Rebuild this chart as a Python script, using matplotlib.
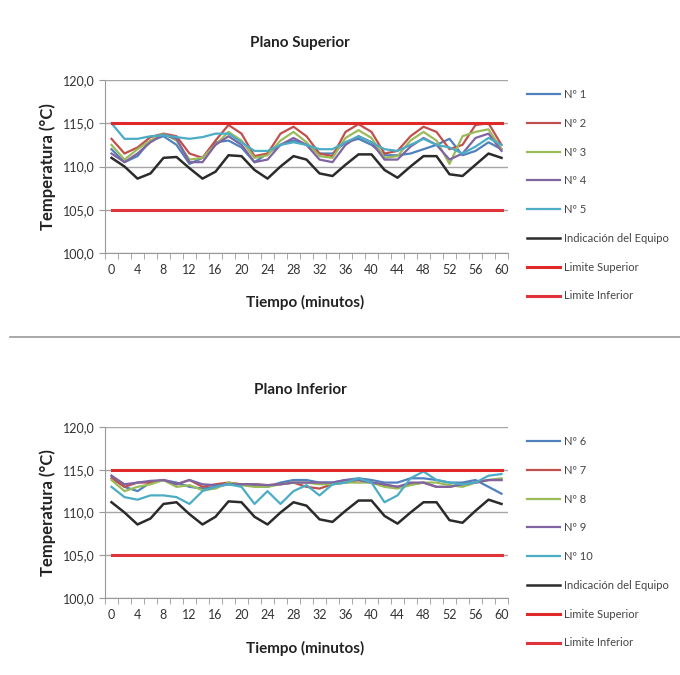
import numpy as np
import matplotlib
matplotlib.use("Agg")
import matplotlib.pyplot as plt

plt.rcParams['font.family'] = ['Lato', 'DejaVu Sans']

# minutos (categorias cada 2 min)
tiempo = list(range(0, 61, 2))

# ---------------- Plano Superior ----------------
sup_n1 = [112.0, 110.5, 111.2, 113.0, 113.5, 112.5, 110.3, 111.0, 112.8, 113.0, 112.2,
          110.5, 111.5, 112.5, 113.0, 112.5, 111.5, 111.5, 112.8, 113.2, 112.5, 111.3,
          111.3, 111.5, 112.0, 112.5, 113.2, 111.3, 111.8, 112.8, 112.0]
sup_n2 = [113.2, 111.5, 112.2, 113.4, 113.8, 113.5, 111.5, 111.0, 113.0, 114.8, 113.8,
          111.2, 111.5, 113.8, 114.6, 113.5, 111.5, 111.2, 114.0, 114.9, 114.0, 111.5,
          111.8, 113.5, 114.6, 114.0, 112.0, 112.5, 114.8, 115.0, 112.5]
sup_n3 = [112.5, 110.8, 112.0, 113.0, 113.8, 113.0, 110.8, 111.0, 112.5, 114.0, 113.0,
          111.0, 111.3, 113.0, 114.0, 112.8, 111.2, 111.0, 113.3, 114.2, 113.3, 111.0,
          111.2, 113.0, 114.0, 113.0, 110.3, 113.5, 114.0, 114.3, 112.0]
sup_n4 = [111.5, 110.5, 111.5, 112.8, 113.7, 113.2, 110.5, 110.5, 112.5, 113.5, 112.5,
          110.5, 110.8, 112.5, 113.3, 112.5, 110.8, 110.5, 112.5, 113.5, 112.8, 110.8,
          110.8, 112.3, 113.3, 112.5, 110.8, 111.5, 113.3, 113.8, 111.8]
sup_n5 = [115.0, 113.2, 113.2, 113.5, 113.6, 113.4, 113.2, 113.4, 113.8, 113.8, 112.8,
          111.8, 111.8, 112.5, 112.8, 112.5, 112.0, 112.0, 112.8, 113.5, 112.8, 112.0,
          111.8, 112.5, 113.2, 112.5, 112.2, 111.5, 112.3, 113.3, 112.5]
sup_equipo = [111.0, 110.0, 108.6, 109.2, 111.0, 111.1, 109.8, 108.6, 109.4, 111.3, 111.2,
              109.6, 108.6, 110.0, 111.2, 110.8, 109.2, 108.9, 110.2, 111.4, 111.4, 109.6,
              108.7, 110.0, 111.2, 111.2, 109.1, 108.9, 110.2, 111.5, 111.0]

# ---------------- Plano Inferior ----------------
inf_n6 = [114.3, 113.0, 112.5, 113.5, 113.8, 113.5, 113.0, 112.8, 113.0, 113.3, 113.3,
          113.2, 113.0, 113.5, 113.8, 113.8, 113.5, 113.5, 113.8, 114.0, 113.8, 113.5,
          113.5, 114.0, 114.0, 113.8, 113.5, 113.5, 113.8, 113.0, 112.2]
inf_n7 = [114.0, 113.0, 113.5, 113.5, 113.8, 113.3, 113.8, 113.0, 113.3, 113.5, 113.3,
          113.3, 113.2, 113.3, 113.5, 113.0, 112.8, 113.3, 113.5, 113.8, 113.5, 113.2,
          113.0, 113.3, 113.5, 113.0, 113.0, 113.3, 113.5, 113.8, 113.8]
inf_n8 = [113.8, 112.5, 113.0, 113.3, 113.8, 113.0, 113.2, 112.6, 112.8, 113.5, 113.2,
          113.0, 113.0, 113.3, 113.5, 113.5, 113.3, 113.3, 113.5, 113.5, 113.5, 113.0,
          112.8, 113.2, 113.5, 113.5, 113.2, 113.0, 113.5, 113.8, 114.0]
inf_n9 = [114.3, 113.3, 113.5, 113.7, 113.8, 113.3, 113.8, 113.3, 113.2, 113.3, 113.3,
          113.3, 113.2, 113.3, 113.5, 113.5, 113.5, 113.5, 113.8, 113.8, 113.5, 113.3,
          113.0, 113.5, 113.5, 113.0, 113.0, 113.3, 113.5, 113.8, 113.8]
inf_n10 = [113.0, 111.8, 111.5, 112.0, 112.0, 111.8, 111.0, 112.5, 113.0, 113.3, 113.0,
           111.0, 112.5, 111.0, 112.5, 113.2, 112.0, 113.3, 113.5, 114.0, 113.5, 111.2,
           112.0, 114.0, 114.8, 113.8, 113.5, 113.3, 113.5, 114.3, 114.5]
inf_equipo = [111.2, 110.0, 108.6, 109.3, 111.0, 111.2, 109.8, 108.6, 109.5, 111.3, 111.2,
              109.5, 108.6, 110.0, 111.2, 110.8, 109.2, 108.9, 110.2, 111.4, 111.4, 109.6,
              108.7, 110.0, 111.2, 111.2, 109.1, 108.8, 110.2, 111.5, 111.0]

limite_superior = 115.0
limite_inferior = 105.0

colores = ['#4F81BD', '#C0504D', '#9BBB59', '#8064A2', '#4BACC6']

W, H = 680, 675
fig = plt.figure(figsize=(W / 100, H / 100), dpi=100)


def px_axes(left, top, right, bottom):
  return fig.add_axes([left / W, 1 - bottom / H, (right - left) / W, (bottom - top) / H])


def panel(ax, series, nombres, equipo, titulo, y_title, y_xlabel, y_leg):
  for s, nom, c in zip(series, nombres, colores):
    ax.plot(tiempo, s, color=c, lw=1.6, label=nom)
  ax.plot(tiempo, equipo, color='#2b2b2b', lw=1.8, label='Indicación del Equipo')
  ax.plot(tiempo, [limite_superior] * len(tiempo), color='#E02A2A', lw=2.2, label='Limite Superior')
  ax.plot(tiempo, [limite_inferior] * len(tiempo), color='#E0343A', lw=2.2, label='Limite Inferior')

  ax.set_xlim(-1, 61)
  ax.set_ylim(100, 120)
  ax.set_yticks([100, 105, 110, 115, 120])
  ax.set_yticklabels(['100,0', '105,0', '110,0', '115,0', '120,0'])
  ax.set_xticks(range(0, 61, 4))
  ax.set_xticks(np.arange(-1, 62, 2), minor=True)
  ax.tick_params(axis='x', which='major', length=0, pad=8, labelsize=9, labelcolor='#333333')
  ax.tick_params(axis='x', which='minor', length=4, color='#999999', direction='out')
  ax.tick_params(axis='y', length=4, color='#999999', labelsize=9, labelcolor='#333333')
  ax.grid(axis='y', color='#A6A6A6', lw=1)
  ax.set_axisbelow(True)
  for sp in ['top', 'right']:
    ax.spines[sp].set_visible(False)
  for sp in ['left', 'bottom']:
    ax.spines[sp].set_color('#999999')

  fig.text(300 / W, 1 - y_title / H, titulo, ha='center', va='center',
           fontsize=11, fontweight='bold', color='#222222')
  fig.text(305 / W, 1 - y_xlabel / H, 'Tiempo (minutos)', ha='center', va='center',
           fontsize=11, fontweight='bold', color='#222222')
  ax.set_ylabel('Temperatura (°C)', fontsize=12, fontweight='bold', color='#222222', labelpad=5)

  ax.legend(loc='upper left', bbox_to_anchor=(527 / W, 1 - y_leg / H),
            bbox_transform=fig.transFigure, frameon=False, fontsize=8,
            handlelength=3.0, handletextpad=0.3, labelspacing=1.6,
            labelcolor='#444444', borderaxespad=0, borderpad=0)


ax1 = px_axes(105, 80, 508, 253)
panel(ax1, [sup_n1, sup_n2, sup_n3, sup_n4, sup_n5],
      ['Nº 1', 'Nº 2', 'Nº 3', 'Nº 4', 'Nº 5'], sup_equipo,
      'Plano Superior', 43, 302, 89)

ax2 = px_axes(105, 427, 508, 598)
panel(ax2, [inf_n6, inf_n7, inf_n8, inf_n9, inf_n10],
      ['Nº 6', 'Nº 7', 'Nº 8', 'Nº 9', 'Nº 10'], inf_equipo,
      'Plano Inferior', 390, 648, 436)

# linea separadora entre graficos
fig.add_artist(plt.Line2D([10 / W, 1.0], [1 - 337 / H, 1 - 337 / H],
                          transform=fig.transFigure, color='#9a9a9a', lw=1.2))

fig.savefig('out.png', dpi=100)
